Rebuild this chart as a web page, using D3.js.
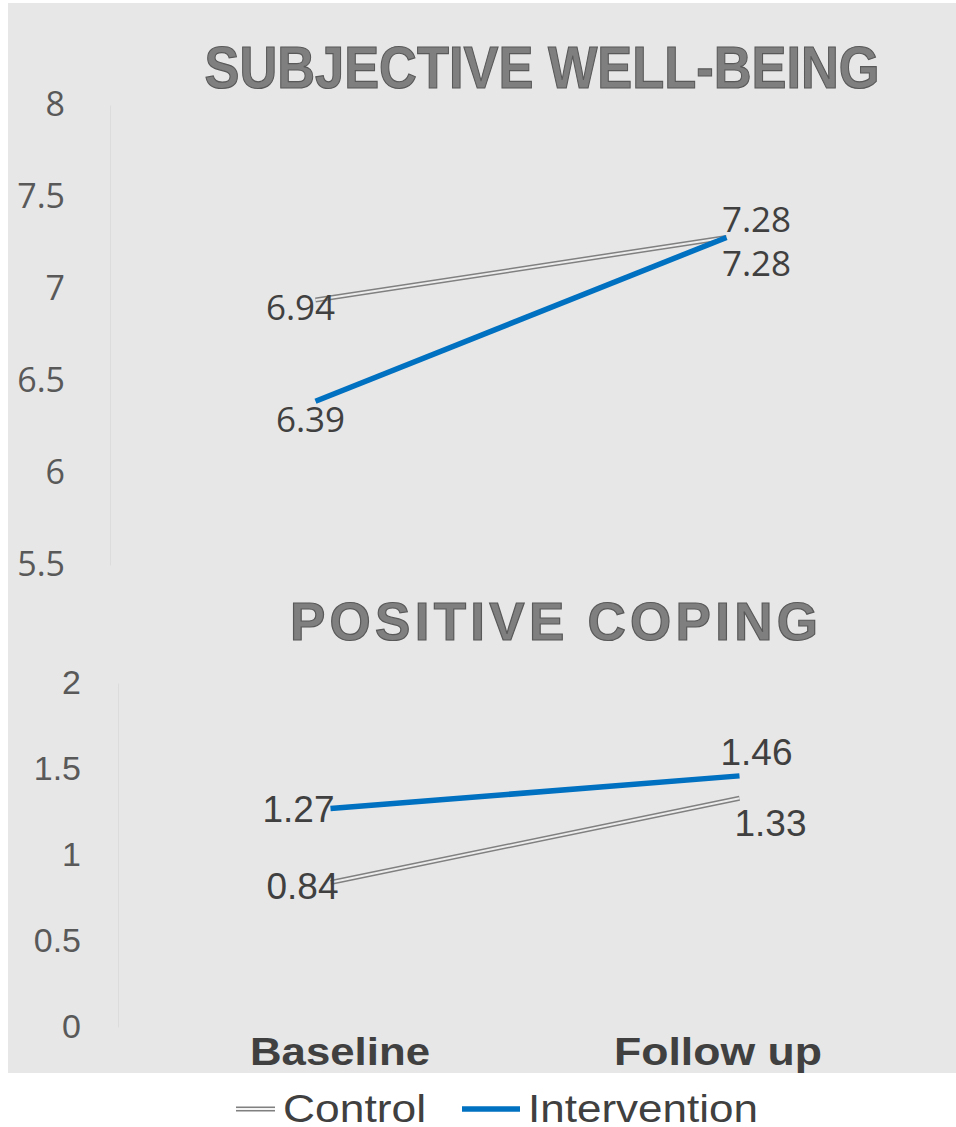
<!DOCTYPE html>
<html>
<head>
<meta charset="utf-8">
<script src="https://cdn.jsdelivr.net/npm/d3@7"></script>
<style>
  html, body { margin: 0; padding: 0; background: #ffffff; }
  svg { display: block; }
</style>
</head>
<body>
<div id="chart"></div>
<script>
// values
const categories = ['Baseline', 'Follow up'];
const seriesNames = ['Control', 'Intervention'];
const wellbeingControl = [6.94, 7.28];
const wellbeingIntervention = [6.39, 7.28];
const copingControl = [0.84, 1.33];
const copingIntervention = [1.27, 1.46];
const wellbeingTicks = [5.5, 6, 6.5, 7, 7.5, 8];
const copingTicks = [0, 0.5, 1, 1.5, 2];

const W = 956, H = 1127;
const BLUE = '#0070c0';
const GREY_LINE = '#808080';
const BG = '#e7e7e7';
const TEXT = '#404040';

class LinePanel {
    constructor(svg, opts) {
        this.svg = svg;
        this.opts = opts;
        this.x = d3.scalePoint().domain(categories).range(opts.xRange).padding(0.5);
        this.y = d3.scaleLinear().domain(opts.domain).range(opts.yRange);
        this.line = d3.line().x((d, i) => this.x(categories[i])).y(d => this.y(d));
    }

    draw() {
        const o = this.opts;
        const g = this.svg.append('g');

        // title
        g.append('text')
            .attr('x', o.titleX)
            .attr('y', o.titleY)
            .attr('text-anchor', 'middle')
            .attr('font-family', 'Liberation Sans, Arial, sans-serif')
            .attr('font-weight', 'bold')
            .attr('font-size', o.titleSize)
            .attr('fill', '#7f7f7f')
            .attr('stroke', '#595959')
            .attr('stroke-width', 1.2)
            .attr('textLength', o.titleLength)
            .attr('lengthAdjust', o.titleAdjust)
            .text(o.title);

        // faint value axis line
        const yAxis = g.append('g')
            .attr('transform', `translate(${o.axisX},0)`)
            .call(d3.axisLeft(this.y)
                .tickValues(o.ticks)
                .tickFormat(d3.format('~g'))
                .tickSize(0)
                .tickPadding(o.axisX - o.tickX));
        yAxis.select('.domain').attr('stroke', '#dcdcdc').attr('stroke-width', 1);
        yAxis.selectAll('.tick text')
            .attr('font-family', o.font)
            .attr('font-size', o.tickSize)
            .attr('fill', '#595959');

        // control: double (compound) line
        g.append('path').datum(o.control)
            .attr('d', this.line)
            .attr('fill', 'none')
            .attr('stroke', GREY_LINE)
            .attr('stroke-width', 5);
        g.append('path').datum(o.control)
            .attr('d', this.line)
            .attr('fill', 'none')
            .attr('stroke', '#ececec')
            .attr('stroke-width', 2);

        // intervention
        g.append('path').datum(o.intervention)
            .attr('d', this.line)
            .attr('fill', 'none')
            .attr('stroke', BLUE)
            .attr('stroke-width', 5.5);

        // data labels
        const labels = [];
        o.control.forEach((v, i) => labels.push({ v, i, off: o.controlOffsets[i] }));
        o.intervention.forEach((v, i) => labels.push({ v, i, off: o.interventionOffsets[i] }));
        g.selectAll('text.val').data(labels).enter()
            .append('text')
            .attr('class', 'val')
            .attr('x', d => this.x(categories[d.i]) + d.off[0])
            .attr('y', d => this.y(d.v) + d.off[1])
            .attr('text-anchor', 'middle')
            .attr('font-family', o.font)
            .attr('font-size', o.labelSize)
            .attr('fill', TEXT)
            .text(d => d3.format('.2f')(d.v));
    }
}

const svg = d3.select('#chart').append('svg')
    .attr('width', W)
    .attr('height', H);

// grey chart area
svg.append('rect')
    .attr('x', 8).attr('y', 3)
    .attr('width', W - 8).attr('height', 1070)
    .attr('fill', BG);

new LinePanel(svg, {
    title: 'SUBJECTIVE WELL-BEING',
    titleX: 542, titleY: 88, titleSize: 60, titleLength: 675, titleAdjust: 'spacingAndGlyphs',
    domain: [5.5, 8], yRange: [565, 105], xRange: [110, 932],
    ticks: wellbeingTicks, axisX: 110, tickX: 65,
    font: 'Open Sans, sans-serif', tickSize: 34, labelSize: 35,
    control: wellbeingControl, intervention: wellbeingIntervention,
    controlOffsets: [[-15, 20], [30, -5]],
    interventionOffsets: [[-5, 31], [30, 39]]
}).draw();

new LinePanel(svg, {
    title: 'POSITIVE COPING',
    titleX: 554, titleY: 640, titleSize: 53, titleLength: 528, titleAdjust: 'spacing',
    domain: [0, 2], yRange: [1027, 683], xRange: [126, 944],
    ticks: copingTicks, axisX: 118, tickX: 81,
    font: 'Liberation Sans, Arial, sans-serif', tickSize: 34, labelSize: 37,
    control: copingControl, intervention: copingIntervention,
    controlOffsets: [[-28, 16], [31, 38]],
    interventionOffsets: [[-32, 13], [17, -11]]
}).draw();

// category labels under the lower panel
const xLabel = d3.scalePoint().domain(categories).range([151, 907]).padding(0.5);
svg.selectAll('text.cat').data(categories).enter()
    .append('text')
    .attr('class', 'cat')
    .attr('x', d => xLabel(d))
    .attr('y', 1065)
    .attr('text-anchor', 'middle')
    .attr('font-family', 'Liberation Sans, Arial, sans-serif')
    .attr('font-weight', 'bold')
    .attr('font-size', 38)
    .attr('fill', TEXT)
    .attr('textLength', d => d === 'Baseline' ? 180 : 208)
    .attr('lengthAdjust', 'spacingAndGlyphs')
    .text(d => d);

// legend
const legend = svg.append('g').attr('transform', 'translate(0,1109)');
const legendX = d3.scaleOrdinal().domain(seriesNames).range([236, 462]);
const legendW = { Control: 39, Intervention: 58 };
const legendTextW = { Control: 143, Intervention: 230 };
seriesNames.forEach(name => {
    const x0 = legendX(name);
    if (name === 'Control') {
        legend.append('line').attr('x1', x0).attr('x2', x0 + legendW[name])
            .attr('stroke', GREY_LINE).attr('stroke-width', 5);
        legend.append('line').attr('x1', x0).attr('x2', x0 + legendW[name])
            .attr('stroke', '#f4f4f4').attr('stroke-width', 2);
    } else {
        legend.append('line').attr('x1', x0).attr('x2', x0 + legendW[name])
            .attr('stroke', BLUE).attr('stroke-width', 5.5);
    }
    legend.append('text')
        .attr('x', x0 + legendW[name] + 8)
        .attr('y', 13)
        .attr('font-family', 'Liberation Sans, Arial, sans-serif')
        .attr('font-size', 38)
        .attr('fill', TEXT)
        .attr('textLength', legendTextW[name])
        .attr('lengthAdjust', 'spacingAndGlyphs')
        .text(name);
});
</script>
</body>
</html>
